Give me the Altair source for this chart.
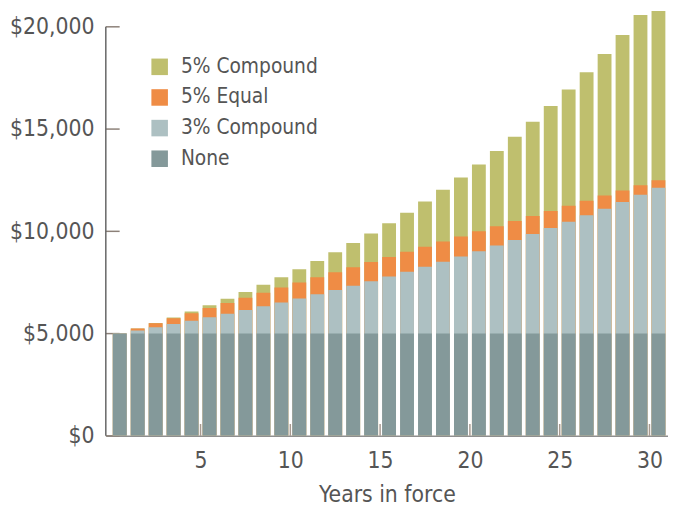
import altair as alt
import pandas as pd

years = list(range(0, 31))
series_order = ["5% Compound", "5% Equal", "3% Compound", "None"]
colors = ["#bfbf6e", "#ef8c45", "#adc0c2", "#84999a"]

# cumulative (total) values per option
none_vals = [5000] * 31
c3_vals = [5000, 5150, 5305, 5464, 5628, 5796, 5970, 6149, 6334, 6524, 6720,
           6921, 7129, 7343, 7563, 7790, 8024, 8264, 8512, 8768, 9031,
           9302, 9581, 9868, 10164, 10469, 10783, 11107, 11440, 11783, 12136]
e5_vals = [5000, 5250, 5500, 5750, 6000, 6250, 6500, 6750, 7000, 7250, 7500,
           7750, 8000, 8250, 8500, 8750, 9000, 9250, 9500, 9750, 10000,
           10250, 10500, 10750, 11000, 11250, 11500, 11750, 12000, 12250, 12500]
c5_vals = [5000, 5250, 5513, 5788, 6078, 6381, 6701, 7036, 7387, 7757, 8145,
           8552, 8979, 9428, 9900, 10395, 10914, 11460, 12033, 12635, 13267,
           13930, 14626, 15358, 16126, 16932, 17778, 18667, 19601, 20581, 21610]

y_ticks = [0, 5000, 10000, 15000, 20000]
x_ticks = [5, 10, 15, 20, 25, 30]

rows = []
for name, vals in zip(series_order, [c5_vals, e5_vals, c3_vals, none_vals]):
    for yr, v in zip(years, vals):
        rows.append({"year": yr, "series": name, "value": v})
df = pd.DataFrame(rows)

FONT = "DejaVu Sans Condensed"
TXT = "#555555"

xscale = alt.Scale(domain=[0, 30.757], nice=False, zero=False)
yscale = alt.Scale(domain=[0, 20773], nice=False)

ytick_layer = alt.Chart(pd.DataFrame({"v": y_ticks})).mark_rule(
    color="#8c8078", strokeWidth=1.5
).encode(
    y=alt.Y("v:Q", scale=yscale),
    x=alt.value(0),
    x2=alt.value(14),
)

yaxis_line = alt.Chart(pd.DataFrame({"a": [y_ticks[0]], "b": [y_ticks[-1]]})).mark_rule(
    color="#666666", strokeWidth=1.5
).encode(
    y=alt.Y("a:Q", scale=yscale),
    y2="b:Q",
    x=alt.value(0),
)

bars = alt.Chart(df).transform_calculate(
    xc="datum.year + 0.5"
).mark_bar(size=14, clip=True).encode(
    x=alt.X("xc:Q", scale=xscale,
            axis=alt.Axis(values=x_ticks, ticks=False, labelPadding=14,
                          labelFontSize=23, labelColor=TXT, labelFont=FONT,
                          domainColor="#8f8f8f", domainWidth=1.5, grid=False,
                          title="Years in force", titleFontSize=23,
                          titleFontWeight="normal", titleColor=TXT,
                          titleFont=FONT, titlePadding=11)),
    y=alt.Y("value:Q", scale=yscale, stack=None,
            axis=alt.Axis(values=y_ticks, format="$,d", ticks=False,
                          labelPadding=12, labelFontSize=23, labelColor=TXT,
                          labelFont=FONT, domain=False, grid=False,
                          title=None)),
    color=alt.Color("series:N",
                    scale=alt.Scale(domain=series_order, range=colors),
                    legend=alt.Legend(title=None, orient="none", legendX=44,
                                      legendY=46, symbolType="square",
                                      symbolSize=280, symbolStrokeWidth=0,
                                      labelFontSize=21, labelFont=FONT,
                                      labelColor=TXT, labelOffset=11,
                                      rowPadding=9, padding=0)),
)

xtick_layer = alt.Chart(pd.DataFrame({"t": x_ticks})).mark_rule(
    color="#a89a90", strokeWidth=1.5
).encode(
    x=alt.X("t:Q", scale=xscale),
    y=alt.value(430),
    y2=alt.value(418),
)

chart = alt.layer(ytick_layer, bars, xtick_layer, yaxis_line).properties(
    width=569,
    height=430,
    autosize=alt.AutoSizeParams(type="none"),
    padding={"left": 99, "top": 0, "right": 0, "bottom": 72},
).configure(font=FONT).configure_view(stroke=None)

chart.save("out.html", embed_options={"renderer": "svg", "actions": False})
